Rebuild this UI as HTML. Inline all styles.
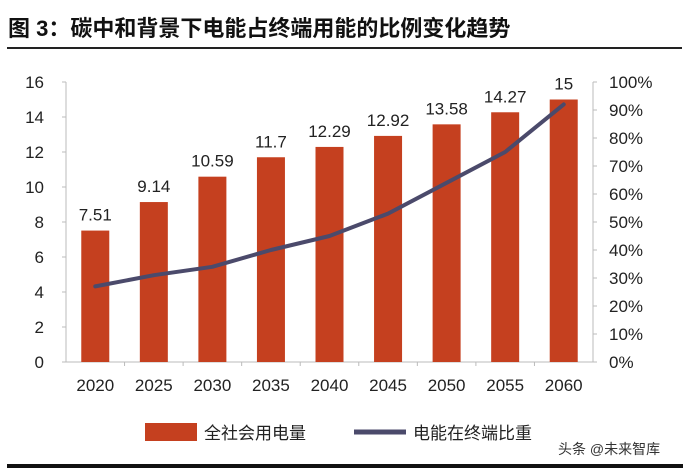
<!DOCTYPE html>
<html><head><meta charset="utf-8"><style>
body{margin:0;background:#fff;width:700px;height:468px;overflow:hidden;font-family:"Liberation Sans","Noto Sans CJK SC",sans-serif}
</style></head><body>
<svg width="700" height="468" id="chart" font-family="Liberation Sans, Noto Sans CJK SC, sans-serif">
<text x="8" y="36" font-size="22" font-weight="bold" fill="#111">图 3：碳中和背景下电能占终端用能的比例变化趋势</text>
<line x1="7" y1="48" x2="682" y2="48" stroke="#222" stroke-width="2"/>
<g id="plot"></g>
<g>
<rect x="145" y="423" width="52" height="18" fill="#c5401f"/>
<text x="204" y="439" font-size="17" fill="#222">全社会用电量</text>
<line x1="354" y1="432" x2="406" y2="432" stroke="#4b4a6b" stroke-width="5"/>
<text x="413" y="439" font-size="17" fill="#222">电能在终端比重</text>
</g>
<text x="558" y="454" font-size="14" fill="#333">头条 @未来智库</text>
<rect x="7" y="464" width="676" height="4" fill="#111"/>
</svg>
<script>
const categories=["2020","2025","2030","2035","2040","2045","2050","2055","2060"];
const powerValues=[7.51,9.14,10.59,11.7,12.29,12.92,13.58,14.27,15];
const shareValues=[27,31,34,40,45,53,64,75,92];
const leftTicks=[0,2,4,6,8,10,12,14,16];
const rightTicks=[0,10,20,30,40,50,60,70,80,90,100];
const NS="http://www.w3.org/2000/svg";
const g=document.getElementById('plot');
const x0=66,x1=593,yB=362,yT=82;
const yL=v=>yB-(v/16)*(yB-yT);
const yR=v=>yB-(v/100)*(yB-yT);
const step=(x1-x0)/categories.length;
const xc=i=>x0+step*(i+0.5);
function mk(t,a){const e=document.createElementNS(NS,t);for(const k in a)e.setAttribute(k,a[k]);g.appendChild(e);return e;}
let e;
e=mk('line',{x1:x0,y1:yT,x2:x0,y2:yB,stroke:'#bbb'});


e=mk('line',{x1:x1,y1:yT,x2:x1,y2:yB,stroke:'#bbb'});


e=mk('line',{x1:x0,y1:yB,x2:x1,y2:yB,stroke:'#bbb'});


leftTicks.forEach(v=>{
 mk('line',{x1:x0-4,y1:yL(v),x2:x0,y2:yL(v),stroke:'#bbb'});
 e=mk('text',{x:44,y:yL(v)+6,'font-size':17,'text-anchor':'end',fill:'#222'});e.textContent=v;
 
 
});
rightTicks.forEach(v=>{
 mk('line',{x1:x1,y1:yR(v),x2:x1+4,y2:yR(v),stroke:'#bbb'});
 e=mk('text',{x:609,y:yR(v)+6,'font-size':17,fill:'#222'});e.textContent=v+'%';
 
 
});
categories.forEach((c,i)=>{
 if(i>0){mk('line',{x1:x0+step*i,y1:yB,x2:x0+step*i,y2:yB+4,stroke:'#bbb'});}
 e=mk('rect',{x:xc(i)-14,y:yL(powerValues[i]),width:28,height:yB-yL(powerValues[i]),fill:'#c5401f'});
 
 
 e=mk('text',{x:xc(i),y:yL(powerValues[i])-10,'font-size':17,'text-anchor':'middle',fill:'#222'});e.textContent=powerValues[i];
 
 
 e=mk('text',{x:xc(i),y:yB+29,'font-size':17,'text-anchor':'middle',fill:'#222'});e.textContent=c;
 
 
});
e=mk('polyline',{points:shareValues.map((v,i)=>xc(i)+','+yR(v)).join(' '),fill:'none',stroke:'#4b4a6b','stroke-width':4,'stroke-linejoin':'round','stroke-linecap':'round'});


</script>
</body></html>
